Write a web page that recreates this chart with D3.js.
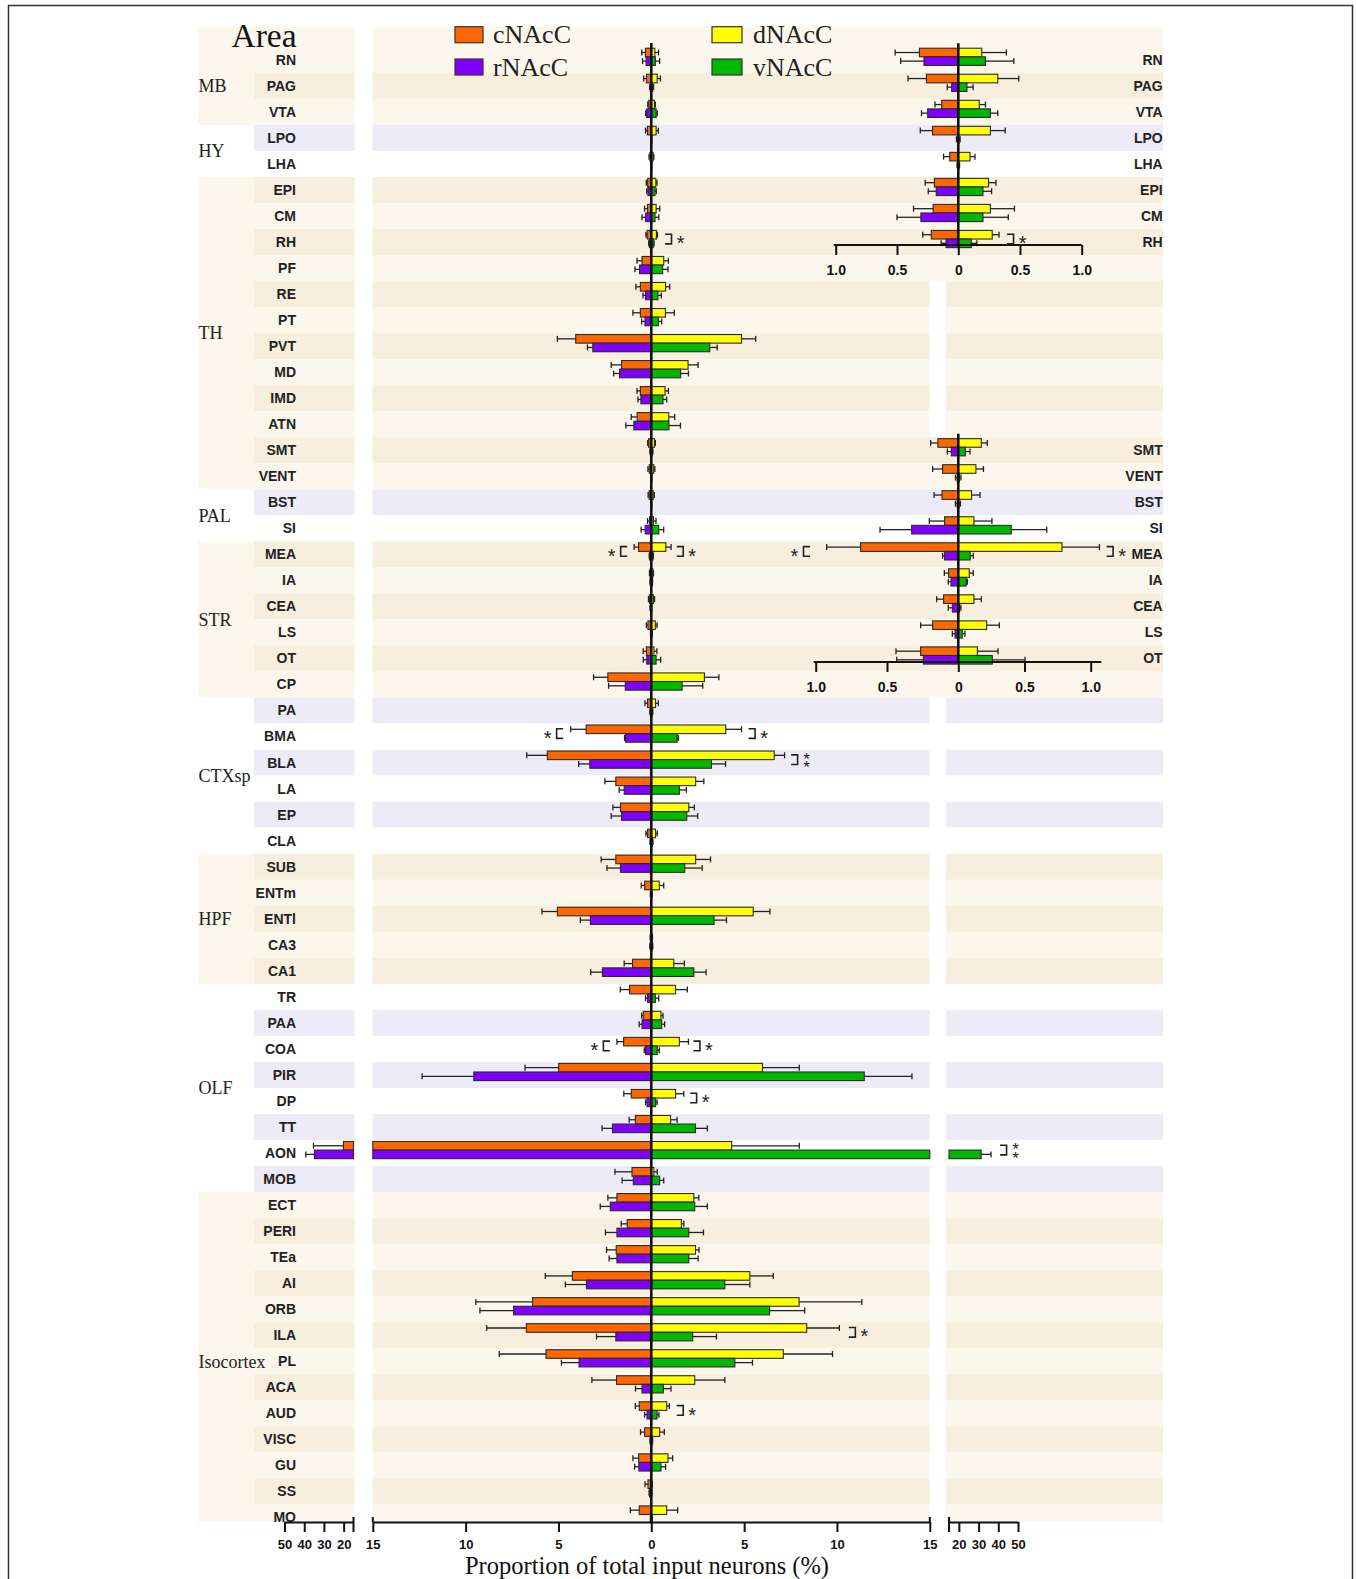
<!DOCTYPE html>
<html><head><meta charset="utf-8">
<script src="https://cdn.jsdelivr.net/npm/d3@7"></script>
<style>body{margin:0;background:#fff}svg{display:block}</style>
</head><body><svg id="c" width="1356" height="1579"></svg>
<script>
// ---------------- DATA ----------------
const regions = ['RN','PAG','VTA','LPO','LHA','EPI','CM','RH','PF','RE','PT','PVT','MD','IMD','ATN','SMT','VENT','BST','SI','MEA','IA','CEA','LS','OT','CP','PA','BMA','BLA','LA','EP','CLA','SUB','ENTm','ENTl','CA3','CA1','TR','PAA','COA','PIR','DP','TT','AON','MOB','ECT','PERI','TEa','AI','ORB','ILA','PL','ACA','AUD','VISC','GU','SS','MO'];
const groupNames = ['MB','HY','TH','PAL','STR','CTXsp','HPF','OLF','Isocortex'];
const groupSizes = [3,2,12,2,6,6,5,8,13];
const groupTint  = ['cream','white','cream','white','cream','white','cream','white','cream'];

const cNAcC     = [0.317,0.26,0.135,0.21,0.07,0.195,0.205,0.22, 0.50,0.59,0.59,4.07,1.60,0.59,0.76, 0.143,0.11,0.114,0.096,0.685,0.068,0.103,0.18,0.264, 2.34, 0.20,3.51,5.60,1.91,1.66,0.20, 1.91,0.36,5.06,0.03,1.01, 1.17,0.43,1.49,4.99,1.08,0.86,20.1,1.04, 1.85,1.30,1.89,4.25,6.39,6.73,5.67,1.87,0.65,0.36,0.68,0.18,0.65];
const cNAcC_sem = [0.198,0.15,0.055,0.10,0.05,0.075,0.16,0.07, 0.27,0.24,0.40,0.99,0.56,0.18,0.32, 0.051,0.07,0.056,0.107,0.238,0.03,0.049,0.084,0.173, 0.77, 0.14,0.83,1.11,0.59,0.41,0.09, 0.79,0.18,0.83,0.03,0.45, 0.50,0.09,0.36,1.81,0.40,0.33,15.2,0.92, 0.49,0.32,0.52,1.46,3.06,2.14,2.52,1.33,0.21,0.22,0.31,0.16,0.48];
const dNAcC     = [0.19,0.32,0.17,0.26,0.095,0.245,0.26,0.275, 0.67,0.77,0.76,4.86,1.98,0.74,0.94, 0.174,0.133,0.10,0.118,0.783,0.083,0.118,0.214,0.144, 2.86, 0.23,4.01,6.62,2.39,2.02,0.23, 2.39,0.43,5.49,0.03,1.21, 1.31,0.52,1.51,5.99,1.31,1.04,4.33,0.14, 2.29,1.62,2.38,5.31,7.96,8.37,7.11,2.34,0.83,0.45,0.90,0.03,0.83];
const dNAcC_sem = [0.20,0.17,0.05,0.12,0.04,0.06,0.195,0.055, 0.25,0.22,0.48,0.76,0.54,0.18,0.32, 0.045,0.057,0.064,0.136,0.283,0.03,0.056,0.096,0.156, 0.78, 0.15,0.85,0.56,0.44,0.30,0.09, 0.80,0.24,0.90,0.03,0.57, 0.63,0.11,0.49,1.98,0.44,0.35,3.64,0.18, 0.27,0.13,0.19,1.26,3.38,1.76,2.65,1.62,0.14,0.25,0.25,0.02,0.59];
const rNAcC     = [0.28,0.054,0.25,0.005,0.004,0.18,0.305,0.10, 0.63,0.31,0.34,3.15,1.71,0.56,0.94, 0.049,0.008,0.008,0.327,0.096,0.051,0.042,0.023,0.245, 1.40, 0.05,1.39,3.31,1.46,1.60,0.04, 1.66,0.03,3.28,0.05,2.63, 0.20,0.50,0.31,9.56,0.23,2.09,34.8,0.97, 2.21,1.85,1.85,3.49,7.42,1.91,3.89,0.50,0.23,0.05,0.67,0.09,0.03];
const rNAcC_sem = [0.19,0.036,0.05,0.01,0.006,0.065,0.195,0.04, 0.25,0.14,0.18,0.29,0.32,0.16,0.43, 0.028,0.012,0.012,0.222,0.014,0.019,0.028,0.019,0.187, 0.90, 0.03,0.05,0.60,0.27,0.56,0.03, 0.73,0.02,0.54,0.03,0.63, 0.11,0.15,0.07,2.78,0.08,0.56,4.4,0.60, 0.54,0.62,0.42,1.14,1.81,1.04,0.95,0.35,0.13,0.02,0.23,0.03,0.02];
const vNAcC     = [0.22,0.07,0.26,0.005,0.004,0.20,0.20,0.105, 0.61,0.36,0.38,3.15,1.58,0.63,0.95, 0.053,0.008,0.006,0.40,0.09,0.06,0.01,0.03,0.257, 1.66, 0.05,1.39,3.24,1.51,1.91,0.06, 1.80,0.03,3.38,0.05,2.29, 0.22,0.56,0.32,11.47,0.23,2.38,31.3,0.45, 2.34,2.02,2.02,3.96,6.37,2.23,4.50,0.65,0.31,0.05,0.52,0.02,0.03];
const vNAcC_sem = [0.23,0.05,0.06,0.01,0.006,0.07,0.205,0.045, 0.29,0.18,0.18,0.40,0.42,0.20,0.62, 0.035,0.012,0.01,0.268,0.023,0.008,0.01,0.02,0.247, 1.11, 0.03,0.07,0.76,0.38,0.59,0.03, 0.94,0.02,0.67,0.03,0.66, 0.18,0.16,0.11,2.57,0.08,0.64,5.0,0.22, 0.68,0.79,0.50,1.35,1.89,1.28,0.95,0.41,0.10,0.02,0.25,0.01,0.02];

const mainTicks  = [-15,-10,-5,0,5,10,15];
const breakTicks = [20,30,40,50];
const insetTicks = [-1,-0.5,0,0.5,1];
const inset1Rows = ['RN','PAG','VTA','LPO','LHA','EPI','CM','RH'];
const inset2Rows = ['SMT','VENT','BST','SI','MEA','IA','CEA','LS','OT'];

// significance markers (bracket opening position in data units, side -1 left / +1 right)
const sigRegion = ['RH','MEA','MEA','BMA','BMA','BLA','COA','COA','DP','AON','ILA','AUD'];
const sigSide   = [1,-1,1,-1,1,1,-1,1,1,1,1,1];
const sigAt     = [0.74,1.30,1.37,4.75,5.24,7.53,2.23,2.27,2.09,40.9,10.64,1.37];
const sigStars  = [1,1,1,1,1,2,1,1,1,2,1,1];
const insetSigRegion = ['RH','MEA','MEA'];
const insetSigSide   = [1,-1,1];
const insetSigAt     = [0.395,1.04,1.12];

// ---------------- LAYOUT ----------------
const svg = d3.select('#c');
const SANS = "'Liberation Sans', Arial, sans-serif";
const SERIF = "'Liberation Serif', 'Times New Roman', serif";
const colors = {cNAcC:'#FF6600', rNAcC:'#8000FF', dNAcC:'#FFFF00', vNAcC:'#00B800'};
const BH = 8.6, axisY = 1522, headerTop = 26.7;
const COL = {areaL:198, areaR:254, labL:254, labR:354.5, mainL:372.5, mainR:929.5, rightL:946, rightR:1163};

const yRow = d3.scaleLinear().domain([0, regions.length]).range([46.8, 46.8 + 26.03*regions.length]);
const xMain = d3.scaleLinear().domain([-15, 15]).range([372.8, 929.8]);
const xBreakL = d3.scaleLinear().domain([15, 50]).range([353.5, 284.5]);
const xBreakR = d3.scaleLinear().domain([15, 50]).range([949, 1018]);
const xIn1 = d3.scaleLinear().domain([-1,0,1]).range([835.7,958.3,1081.7]);
const xIn2 = d3.scaleLinear().domain([-1,0,1]).range([815.7,958.3,1090.7]);
const inset1AxisY = 245, inset2AxisY = 662;

const rowGroup = [];
groupSizes.forEach((n,g)=>{for(let k=0;k<n;k++) rowGroup.push(g);});
const groupFirst = groupSizes.map((n,g)=>d3.sum(groupSizes.slice(0,g)));

function stripeColor(i){
  const cream = groupTint[rowGroup[i]]==='cream', odd = i%2===1;
  return cream ? (odd ? '#F8EEDD' : '#FBF7EC') : (odd ? '#EEEBF8' : '#FFFFFF');
}
const idx = r => regions.indexOf(r);
const in1a = idx(inset1Rows[0]), in1b = idx(inset1Rows[inset1Rows.length-1]) + 1;
const in2a = idx(inset2Rows[0]), in2b = idx(inset2Rows[inset2Rows.length-1]) + 1;
const gapFilled = i => (i>=in1a && i<=in1b) || (i>=in2a && i<=in2b);

// ---------------- BACKGROUND ----------------
const gBg = svg.append('g');
regions.forEach((r,i)=>{
  const top = i===0 ? headerTop : yRow(i);
  const bot = Math.min(yRow(i+1), axisY);
  const fill = stripeColor(i);
  gBg.append('rect').attr('x',COL.labL).attr('y',top).attr('width',COL.labR-COL.labL).attr('height',bot-top).attr('fill',fill);
  if (gapFilled(i)) {
    gBg.append('rect').attr('x',COL.mainL).attr('y',top).attr('width',COL.rightR-COL.mainL).attr('height',bot-top).attr('fill',fill);
  } else {
    gBg.append('rect').attr('x',COL.mainL).attr('y',top).attr('width',COL.mainR-COL.mainL).attr('height',bot-top).attr('fill',fill);
    gBg.append('rect').attr('x',COL.rightL).attr('y',top).attr('width',COL.rightR-COL.rightL).attr('height',bot-top).attr('fill',fill);
  }
});
groupNames.forEach((g,k)=>{
  const a = groupFirst[k], b = a + groupSizes[k];
  const top = a===0 ? headerTop : yRow(a);
  const bot = Math.min(yRow(b), axisY);
  gBg.append('rect').attr('x',COL.areaL).attr('y',top).attr('width',COL.areaR-COL.areaL).attr('height',bot-top)
     .attr('fill', groupTint[k]==='cream' ? '#FBF7EC' : '#FFFFFF');
  svg.append('text').attr('x',198.5).attr('y',(yRow(a)+yRow(b))/2).attr('dy','0.35em')
     .attr('font-family',SERIF).attr('font-size',18).attr('fill','#222').text(g);
});

// outer frame
svg.append('rect').attr('x',8.5).attr('y',5.5).attr('width',1344).attr('height',1600)
   .attr('fill','none').attr('stroke','#333').attr('stroke-width',1.5);

// title / legend
svg.append('text').attr('x',231.5).attr('y',47).attr('font-family',SERIF).attr('font-size',33.5).attr('fill','#111').text('Area');
const legendKeys = ['cNAcC','rNAcC','dNAcC','vNAcC'];
const legendCol = [0,0,1,1], legendRow = [0,1,0,1];
legendKeys.forEach((k,j)=>{
  const lx = legendCol[j] ? 712 : 455, ly = legendRow[j] ? 59 : 26.7;
  svg.append('rect').attr('x',lx).attr('y',ly).attr('width',legendCol[j]?30:28).attr('height',16)
     .attr('fill',colors[k]).attr('stroke','#333').attr('stroke-width',1.2);
  svg.append('text').attr('x',lx+(legendCol[j]?41:38)).attr('y',ly+16.5).attr('font-family',SERIF)
     .attr('font-size',26).attr('fill','#222').text(k);
});

// row labels
regions.forEach((r,i)=>{
  svg.append('text').attr('x',296).attr('y',yRow(i+0.5)).attr('dy','0.35em').attr('text-anchor','end')
     .attr('font-family',SANS).attr('font-weight','bold').attr('font-size',14).attr('fill','#222').text(r);
});

// ---------------- BARS ----------------
const series = [
  {key:'cNAcC', vals:cNAcC, sem:cNAcC_sem, side:-1, pos:0},
  {key:'rNAcC', vals:rNAcC, sem:rNAcC_sem, side:-1, pos:1},
  {key:'dNAcC', vals:dNAcC, sem:dNAcC_sem, side: 1, pos:0},
  {key:'vNAcC', vals:vNAcC, sem:vNAcC_sem, side: 1, pos:1},
];
function barTop(i,pos){ const c = yRow(i+0.5) - 3; return pos===0 ? c - BH : c; }
function rect(g,xa,xb,y,fill){
  g.append('rect').attr('x',Math.min(xa,xb)).attr('y',y).attr('width',Math.max(Math.abs(xb-xa),0.4))
   .attr('height',BH).attr('fill',fill).attr('stroke','#2a2a2a').attr('stroke-width',1.1);
}
function err(g,xa,xb,ym){
  g.append('line').attr('x1',xa).attr('x2',xb).attr('y1',ym).attr('y2',ym).attr('stroke','#222').attr('stroke-width',1.3);
  g.append('line').attr('x1',xb).attr('x2',xb).attr('y1',ym-3).attr('y2',ym+3).attr('stroke','#222').attr('stroke-width',1.3);
}
const gMain = svg.append('g');
series.forEach(s=>{
  s.vals.forEach((v,i)=>{
    const y0 = barTop(i,s.pos), ym = y0 + BH/2, e = v + s.sem[i];
    const xb = s.side<0 ? xBreakL : xBreakR;
    rect(gMain, xMain(0), xMain(s.side*Math.min(v,15)), y0, colors[s.key]);
    if (v > 15) {
      rect(gMain, xb(15), xb(v), y0, colors[s.key]);
      err(gMain, xb(v), xb(e), ym);
    } else {
      err(gMain, xMain(s.side*v), xMain(s.side*Math.min(e,15)), ym);
    }
  });
});
svg.append('line').attr('x1',xMain(0)).attr('x2',xMain(0)).attr('y1',43).attr('y2',axisY)
   .attr('stroke','#111').attr('stroke-width',2.6);

// significance
function sigMark(x0, dir, yc, stars){
  svg.append('path').attr('d',`M${x0},${yc-4.8}H${x0+dir*6.5}V${yc+4.8}H${x0}`)
     .attr('fill','none').attr('stroke','#222').attr('stroke-width',1.6);
  const sx = x0 + dir*15.5;
  const t = svg.append('text').attr('text-anchor','middle').attr('font-family',SANS).attr('fill','#222');
  if (stars===1) {
    t.attr('font-size',20).append('tspan').attr('x',sx).attr('y',yc+11.2).text('*');
  } else {
    t.attr('font-size',17);
    [-4.2,4.2].forEach(d=>t.append('tspan').attr('x',sx).attr('y',yc+d+9.6).text('*'));
  }
}
sigRegion.forEach((r,k)=>{
  const i = idx(r), yc = yRow(i+0.5) - 3;
  const x0 = sigAt[k] > 15 ? (sigSide[k]<0 ? xBreakL(sigAt[k]) : xBreakR(sigAt[k])) : xMain(sigSide[k]*sigAt[k]);
  sigMark(x0, sigSide[k], yc, sigStars[k]);
});

// ---------------- AXES ----------------
function styleAxis(g, fs){
  g.select('.domain').attr('stroke','#111').attr('stroke-width',2.2);
  g.selectAll('.tick line').attr('stroke','#111').attr('stroke-width',2);
  g.selectAll('.tick text').attr('font-family',SANS).attr('font-weight','bold').attr('font-size',fs).attr('fill','#111');
}
const gAx = svg.append('g').attr('transform',`translate(0,${axisY})`)
  .call(d3.axisBottom(xMain).tickValues(mainTicks).tickFormat(d=>Math.abs(d)).tickSize(10).tickSizeOuter(0).tickPadding(7.5));
styleAxis(gAx, 13);
[-15,15].forEach(d=>gAx.append('line').attr('x1',xMain(d)).attr('x2',xMain(d)).attr('y1',-5).attr('y2',0).attr('stroke','#111').attr('stroke-width',2));
[xBreakL, xBreakR].forEach(sc=>{
  const g = svg.append('g').attr('transform',`translate(0,${axisY})`)
    .call(d3.axisBottom(sc).tickValues(breakTicks).tickSize(10).tickSizeOuter(0).tickPadding(7.5));
  styleAxis(g, 13);
  g.append('line').attr('x1',sc(15)).attr('x2',sc(15)).attr('y1',-5).attr('y2',10).attr('stroke','#111').attr('stroke-width',2);
});
svg.append('text').attr('x',647).attr('y',1573.5).attr('text-anchor','middle').attr('font-family',SERIF)
   .attr('font-size',24.5).attr('fill','#111').text('Proportion of total input neurons (%)');

// ---------------- INSETS ----------------
function drawInset(rows, sc, axY, extra){
  const g = svg.append('g');
  rows.forEach(r=>{
    const i = idx(r);
    series.forEach(s=>{
      const v = s.vals[i], e = v + s.sem[i], y0 = barTop(i,s.pos), ym = y0 + BH/2;
      rect(g, sc(0), sc(s.side*v), y0, colors[s.key]);
      err(g, sc(s.side*v), sc(s.side*e), ym);
    });
    svg.append('text').attr('x',1162.7).attr('y',yRow(i+0.5)).attr('dy','0.35em').attr('text-anchor','end')
       .attr('font-family',SANS).attr('font-weight','bold').attr('font-size',14).attr('fill','#222').text(r);
  });
  const top = yRow(idx(rows[0])) - 3.5;
  svg.append('line').attr('x1',sc(0)).attr('x2',sc(0)).attr('y1',top).attr('y2',axY).attr('stroke','#111').attr('stroke-width',2.6);
  const ga = svg.append('g').attr('transform',`translate(0,${axY})`)
    .call(d3.axisBottom(sc).tickValues(insetTicks).tickFormat(d=>d===0?'0':Math.abs(d).toFixed(1)).tickSize(10).tickSizeOuter(0).tickPadding(10));
  styleAxis(ga, 14);
  ga.select('.domain').attr('d',`M${sc(-1)-2},0H${sc(extra)}`);
}
drawInset(inset1Rows, xIn1, inset1AxisY, 1);
drawInset(inset2Rows, xIn2, inset2AxisY, 1.08);
insetSigRegion.forEach((r,k)=>{
  const i = idx(r), yc = yRow(i+0.5) - 3;
  const sc = inset1Rows.includes(r) ? xIn1 : xIn2;
  sigMark(sc(insetSigSide[k]*insetSigAt[k]), insetSigSide[k], yc, 1);
});
</script></body></html>
